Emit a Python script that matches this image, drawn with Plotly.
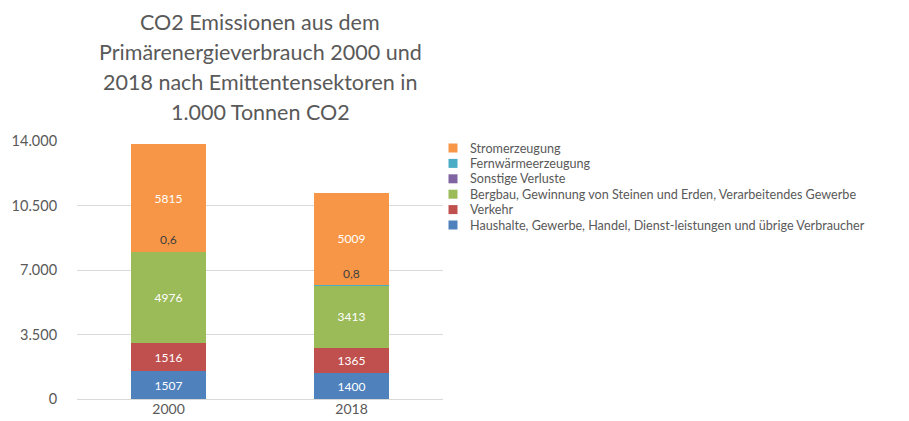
import plotly.graph_objects as go

# Emission data (1.000 t CO2) by sector, stacked bottom to top
years = ["2000", "2018"]
haushalte = [1507, 1400]
verkehr = [1516, 1365]
bergbau = [4976, 3413]
sonstige_verluste = [0, 0]
fernwaerme = [0.6, 0.8]
strom = [5815, 5009]

sector_names = [
    "Haushalte, Gewerbe, Handel, Dienst-leistungen und übrige Verbraucher",
    "Verkehr",
    "Bergbau, Gewinnung von Steinen und Erden, Verarbeitendes Gewerbe",
    "Sonstige Verluste",
    "Fernwärmeerzeugung",
    "Stromerzeugung",
]
sector_values = [haushalte, verkehr, bergbau, sonstige_verluste, fernwaerme, strom]
sector_colors = ["#4F81BD", "#C0504D", "#9BBB59", "#8064A2", "#4BACC6", "#F79646"]
small_sectors = {"Sonstige Verluste", "Fernwärmeerzeugung"}

y_ticks = [0, 3500, 7000, 10500, 14000]
title_lines = [
    "CO2 Emissionen aus dem",
    "Primärenergieverbrauch 2000 und",
    "2018 nach Emittentensektoren in",
    "1.000 Tonnen CO2",
]

FONT = "Lato, 'Open Sans', sans-serif"
GREY = "#595959"
W, H = 909, 421
PLOT_L, PLOT_R, PLOT_T, PLOT_B = 77, 443, 141, 399


def px_x(p):
    return (p - PLOT_L) / (PLOT_R - PLOT_L)


def px_y(p):
    return (PLOT_B - p) / (PLOT_B - PLOT_T)


fig = go.Figure()

for name, vals, col in zip(sector_names, sector_values, sector_colors):
    small = name in small_sectors
    fig.add_trace(go.Bar(
        x=years, y=vals, name=name,
        marker=dict(color=col, line=dict(width=0)),
        text=None if small else [f"{v:d}" for v in vals],
        textposition="inside", insidetextanchor="middle",
        textfont=dict(family=FONT, size=12, color="white"),
        showlegend=False,
    ))

annotations = []

# value labels for the thin district-heating layer, just above its position
# (x given as category index so the axis range is not stretched)
below = [h + v + b for h, v, b in zip(haushalte, verkehr, bergbau)]
for idx, (base, s, f) in enumerate(zip(below, sonstige_verluste, fernwaerme)):
    annotations.append(dict(
        x=idx, y=base + s + f, xref="x", yref="y",
        text=f"{f:.1f}".replace(".", ","), showarrow=False, yshift=12,
        font=dict(family=FONT, size=12, color="#404040"),
    ))

# title, one line each
for i, line in enumerate(title_lines):
    annotations.append(dict(
        x=0.5, y=px_y(22 + 30 * i), xref="paper", yref="paper",
        text=line, showarrow=False, xanchor="center", yanchor="middle",
        font=dict(family=FONT, size=21.5, color=GREY),
    ))

# legend, listed top to bottom in reverse stacking order
shapes = []
for i, (name, col) in enumerate(zip(sector_names[::-1], sector_colors[::-1])):
    cy = 148 + 15.4 * i
    shapes.append(dict(
        type="rect", xref="paper", yref="paper",
        x0=px_x(448.5), x1=px_x(457.5), y0=px_y(cy + 4.5), y1=px_y(cy - 4.5),
        fillcolor=col, line=dict(width=0),
    ))
    annotations.append(dict(
        x=px_x(469), y=px_y(cy), xref="paper", yref="paper",
        text=name, showarrow=False, xanchor="left", yanchor="middle",
        borderpad=0,
        font=dict(family=FONT, size=12.6, color=GREY),
    ))

fig.update_layout(
    width=W, height=H,
    margin=dict(l=PLOT_L, r=W - PLOT_R, t=PLOT_T, b=H - PLOT_B, pad=0),
    barmode="stack", bargap=0.59,
    paper_bgcolor="white", plot_bgcolor="white",
    separators=",.",
    font=dict(family=FONT, color=GREY),
    annotations=annotations, shapes=shapes,
    xaxis=dict(
        type="category", range=[-0.5, len(years) - 0.5], automargin=False,
        showgrid=False, showline=False, ticks="",
        tickfont=dict(family=FONT, size=14, color=GREY),
    ),
    yaxis=dict(
        range=[0, 14000], tickvals=y_ticks, tickformat=",d", automargin=False,
        showgrid=True, gridcolor="#D9D9D9", gridwidth=1,
        zeroline=True, zerolinecolor="#D9D9D9", zerolinewidth=1,
        showline=False, ticks="outside", ticklen=16,
        tickcolor="rgba(0,0,0,0)",
        tickfont=dict(family=FONT, size=14.5, color=GREY),
    ),
)

fig.write_html("out.html")
